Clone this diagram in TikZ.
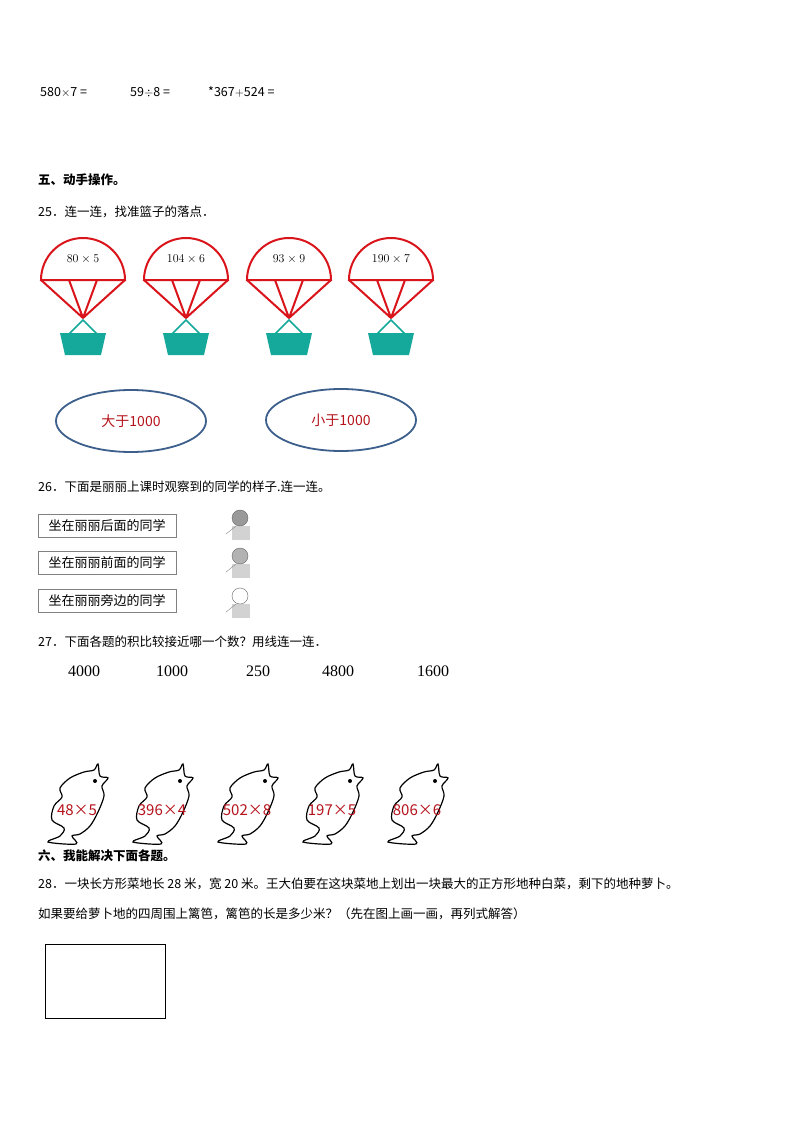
\documentclass[tikz,border=0pt]{standalone}
\usepackage{fontspec}
\setmainfont{Liberation Serif}
\newfontfamily\cjk{Noto Sans CJK SC}
\definecolor{chuteRed}{HTML}{D9141B}
\definecolor{basketTeal}{HTML}{14A99B}
\definecolor{ringBlue}{HTML}{3D5F8C}
\definecolor{labelRed}{HTML}{B5121B}
\tikzset{
  txt/.style={anchor=west, inner sep=0pt, font=\cjk\fontsize{12.5}{14}\selectfont},
  head/.style={txt, font=\cjk\bfseries\fontsize{12.5}{14}\selectfont},
  optbox/.style={draw=gray, anchor=west, minimum width=138, minimum height=23, inner sep=2pt, font=\cjk\fontsize{13}{15}\selectfont},
  ring/.style={draw=ringBlue, line width=1.8pt, ellipse, minimum width=150, minimum height=62, font=\cjk\fontsize{14}{16}\selectfont, text=labelRed},
  bignum/.style={font=\fontsize{16}{18}\selectfont}
}
\usetikzlibrary{shapes.geometric}
\begin{document}
\begin{tikzpicture}[x=1pt,y=-1pt]
  \useasboundingbox[fill=white] (0,0) rectangle (794,1123);

  \node[txt] (q1) at (40,92) {580$\times$7 =};
  \node[txt] (q2) at (130,92) {59$\div$8 =};
  \node[txt] (q3) at (208,92) {*367$+$524 =};

  \node[head] (sec5) at (38,180) {五、动手操作。};
  \node[txt] (p25) at (38,212) {25．连一连，找准篮子的落点．};

  % parachutes
  \foreach \cx/\lab [count=\i] in {83/{80\times5},186/{104\times6},289/{93\times9},391/{190\times7}}{
    \draw[chuteRed, line width=2pt] (\cx-42,280) arc[start angle=180, end angle=360, radius=42] -- cycle;
    \draw[chuteRed, line width=2pt, line join=round] (\cx-42,280) -- (\cx,318) -- (\cx+42,280)
      (\cx-14,280) -- (\cx,318) -- (\cx+14,280);
    \node[font=\fontsize{13}{15}\selectfont] (chute\i) at (\cx,259) {$\lab$};
    \draw[basketTeal, line width=1.6pt] (\cx-14,334) -- (\cx,320) -- (\cx+14,334);
    \fill[basketTeal] (\cx-23,333) -- (\cx+23,333) -- (\cx+18,355) -- (\cx-18,355) -- cycle;
  }

  \node[ring] (big) at (131,421) {大于1000};
  \node[ring] (small) at (341,420) {小于1000};

  \node[txt] (p26) at (38,487) {26．下面是丽丽上课时观察到的同学的样子.连一连。};
  \node[optbox] (back) at (38,526) {坐在丽丽后面的同学};
  \node[optbox] (front) at (38,563) {坐在丽丽前面的同学};
  \node[optbox] (side) at (38,601) {坐在丽丽旁边的同学};

  % little classmates
  \foreach \y/\hair in {522/gray!80, 560/gray!60, 600/white}{
    \fill[gray!35] (232,\y+4) rectangle (250,\y+18);
    \draw[gray] (236,\y+4) -- (226,\y+12);
    \filldraw[draw=gray!80!black, fill=\hair] (240,\y-4) circle (8);
  }

  \node[txt] (p27) at (38,642) {27．下面各题的积比较接近哪一个数？用线连一连．};
  \foreach \x/\n [count=\i] in {84/4000,172/1000,258/250,338/4800,433/1600}
    \node[bignum] (num\i) at (\x,671) {\n};

  % dolphins
  \foreach \cx in {80,165,250,335,420}{
    \draw[line width=1.2pt] plot[smooth cycle, tension=0.55] coordinates {
      (\cx-32,842) (\cx-20,836) (\cx-16,828) (\cx-28,820) (\cx-26,806) (\cx-18,797)
      (\cx-20,788) (\cx-10,778) (\cx+4,772) (\cx+14,770) (\cx+18,764) (\cx+20,776)
      (\cx+28,778) (\cx+22,786) (\cx+24,796) (\cx+18,812) (\cx+10,826) (\cx,834)
      (\cx-8,836) (\cx-4,844)};
    \fill (\cx+15,781) circle (2);
  }
  \foreach \cx/\lab [count=\i] in {80/{48×5},165/{396×4},250/{502×8},335/{197×5},420/{806×6}}
    \node[text=labelRed, font=\cjk\fontsize{15}{17}\selectfont] (prod\i) at (\cx-3,810) {\lab};

  \node[head] (sec6) at (38,856) {六、我能解决下面各题。};
  \node[txt] (p28) at (38,884) {28．一块长方形菜地长 28 米，宽 20 米。王大伯要在这块菜地上划出一块最大的正方形地种白菜，剩下的地种萝卜。};
  \node[txt] (p28b) at (38,914) {如果要给萝卜地的四周围上篱笆，篱笆的长是多少米？（先在图上画一画，再列式解答）};

  \draw[line width=0.8pt] (45,944) rectangle (165,1018);
\end{tikzpicture}
\end{document}
